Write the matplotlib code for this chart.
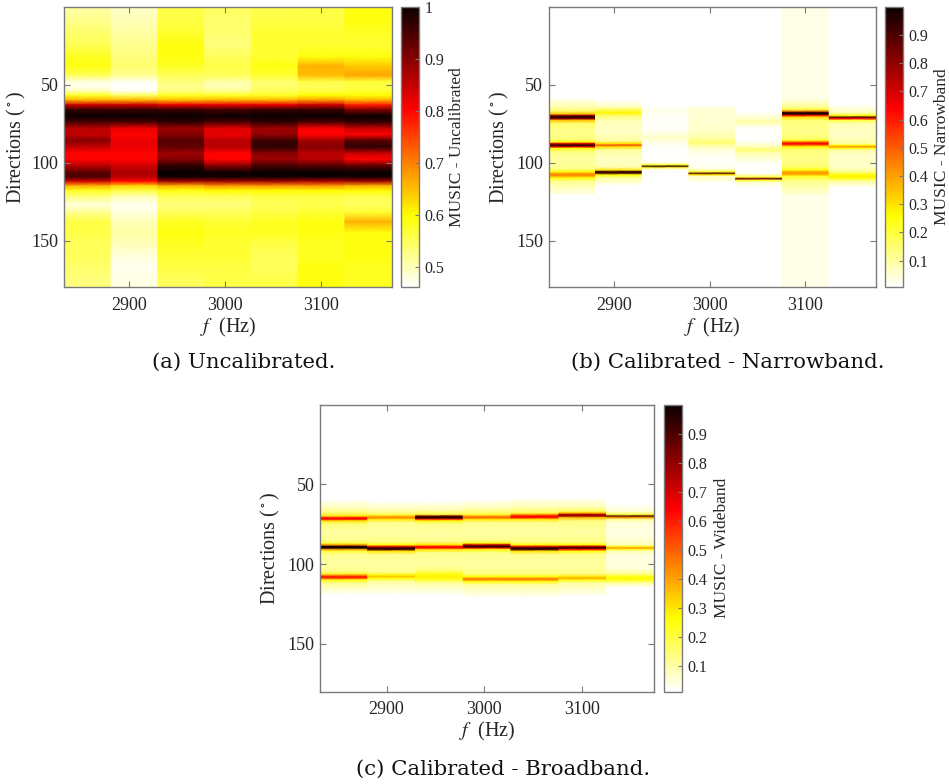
import numpy as np
import matplotlib
matplotlib.use("Agg")
import matplotlib.pyplot as plt
from matplotlib.colors import Normalize
from matplotlib.cm import ScalarMappable

# ---------------- data ----------------
freq_edges = [2832.0, 2880.9, 2929.7, 2978.5, 3027.3, 3076.2, 3125.0, 3173.8]
x_ticks = [2900, 3000, 3100]
y_ticks = [50, 100, 150]

# (a) Uncalibrated: common direction samples, one value list per frequency column
dirs_a = [0, 8, 16, 24, 32, 38, 44, 48, 51, 54, 57, 60, 63, 66, 70, 74, 78, 82, 86,
          90, 94, 98, 102, 106, 109, 112, 115, 118, 122, 127, 132, 138, 145, 152,
          160, 168, 176, 180]
a_col1 = [.51, .52, .54, .55, .58, .59, .55, .48, .47, .50, .58, .66, .84, .96, 1.0, .95, .86, .85, .90,
          .85, .80, .80, .86, .93, .95, .84, .66, .58, .53, .48, .52, .56, .56, .55, .55, .54, .53, .53]
a_col2 = [.49, .50, .51, .52, .53, .54, .52, .47, .46, .47, .55, .66, .84, .96, 1.0, .95, .82, .80, .82,
          .82, .80, .80, .84, .87, .86, .80, .63, .56, .50, .47, .48, .50, .51, .50, .48, .47, .475, .475]
a_col3 = [.56, .56, .57, .59, .59, .58, .55, .53, .52, .53, .58, .65, .82, .96, 1.0, .97, .88, .90, .94,
          .93, .88, .90, .97, 1.0, 1.0, .88, .66, .59, .55, .53, .55, .58, .59, .58, .57, .56, .55, .55]
a_col4 = [.55, .54, .54, .53, .55, .56, .55, .51, .50, .52, .58, .66, .82, .95, 1.0, .95, .83, .82, .86,
          .86, .80, .80, .90, .99, 1.0, .88, .68, .60, .55, .53, .55, .57, .58, .57, .57, .56, .56, .56]
a_col5 = [.555, .56, .57, .57, .57, .59, .57, .54, .54, .55, .58, .66, .82, .96, 1.0, .97, .88, .89, .96,
          .97, .90, .88, .95, 1.0, 1.0, .88, .68, .60, .56, .55, .56, .58, .58, .56, .55, .55, .56, .56]
a_col6 = [.56, .56, .57, .57, .59, .66, .65, .56, .55, .56, .60, .68, .84, .96, 1.0, .95, .81, .80, .88,
          .90, .86, .86, .94, 1.0, 1.0, .87, .68, .60, .56, .555, .57, .59, .59, .58, .58, .59, .59, .59]
a_col7 = [.59, .59, .58, .57, .59, .64, .67, .57, .56, .57, .60, .66, .78, .90, 1.0, .97, .85, .80, .94,
          .97, .85, .80, .93, 1.0, 1.0, .88, .66, .60, .555, .545, .57, .66, .59, .59, .59, .58, .58, .58]
vals_a = [a_col1, a_col2, a_col3, a_col4, a_col5, a_col6, a_col7]

# (b) Calibrated - Narrowband: per column direction samples and values
b_dirs1 = [0, 59, 60, 64, 67, 69, 70, 71, 72, 73, 75, 80, 85, 87, 88, 89, 90, 91, 93, 98, 104, 106, 107, 108, 109, 110, 112, 117, 120, 121, 180]
b_vals1 = [.005, .005, .04, .08, .15, .35, .8, 1.0, .8, .35, .15, .12, .13, .25, .7, .98, .7, .25, .13, .1, .12, .25, .38, .45, .38, .25, .12, .06, .04, .005, .005]
b_dirs2 = [0, 60, 61, 64, 66, 68, 70, 73, 80, 86, 88, 89, 90, 92, 98, 103, 105, 106, 107, 108, 110, 113, 115, 180]
b_vals2 = [.005, .005, .03, .06, .15, .27, .15, .08, .06, .1, .3, .55, .3, .1, .06, .08, .3, .95, .9, .25, .1, .05, .005, .005]
b_dirs3 = [0, 65, 66, 70, 78, 82, 84, 86, 90, 100, 101.5, 102.5, 103.5, 104.5, 106, 180]
b_vals3 = [.005, .005, .03, .02, .01, .04, .06, .04, .01, .01, .2, .95, .2, .03, .005, .005]
b_dirs4 = [0, 64, 65, 72, 80, 85, 87, 89, 92, 96, 100, 104, 106, 107, 108, 109, 112, 113, 180]
b_vals4 = [.005, .005, .05, .05, .06, .1, .15, .1, .04, .02, .01, .03, .2, .9, .3, .06, .04, .005, .005]
b_dirs5 = [0, 68, 69, 72, 74, 76, 78, 86, 90, 92, 94, 98, 101, 107, 109.5, 110.5, 111.5, 113, 115, 116, 180]
b_vals5 = [.005, .005, .03, .06, .1, .05, .01, .01, .08, .15, .08, .04, .01, .01, .2, .85, .2, .04, .03, .005, .005]
b_dirs6 = [0, 59, 61, 64, 66, 67, 68, 69, 70, 71, 73, 80, 85, 86, 87, 88, 89, 90, 92, 98, 103, 105, 106, 107, 108, 109, 112, 118, 120, 121, 180]
b_vals6 = [.03, .03, .06, .1, .18, .4, .9, 1.0, .6, .3, .14, .12, .15, .25, .5, .65, .5, .25, .14, .12, .15, .25, .38, .42, .35, .22, .12, .07, .06, .03, .03]
b_dirs7 = [0, 63, 64, 68, 70, 71, 72, 73, 75, 82, 88, 89, 90, 91, 92, 95, 103, 106, 108, 109, 110, 112, 115, 116, 180]
b_vals7 = [.005, .005, .03, .07, .25, .9, .6, .2, .08, .06, .1, .25, .42, .25, .1, .06, .06, .12, .25, .28, .25, .1, .04, .005, .005]
dirs_b = [b_dirs1, b_dirs2, b_dirs3, b_dirs4, b_dirs5, b_dirs6, b_dirs7]
vals_b = [b_vals1, b_vals2, b_vals3, b_vals4, b_vals5, b_vals6, b_vals7]

# (c) Calibrated - Broadband
c_dirs1 = [0, 60, 61, 65, 68, 70, 71, 72, 73, 75, 80, 85, 87, 88, 89, 90, 91, 92, 94, 99, 104, 106, 107, 108, 109, 110, 112, 116, 118, 119, 180]
c_vals1 = [.01, .01, .04, .08, .15, .3, .6, .65, .3, .14, .1, .12, .2, .4, .95, 1.0, .4, .2, .12, .1, .12, .2, .4, .6, .55, .25, .12, .06, .04, .01, .01]
c_dirs2 = [0, 61, 62, 66, 69, 70, 71, 72, 74, 80, 86, 88, 89, 90, 91, 92, 94, 100, 105, 107, 108, 109, 111, 116, 118, 119, 180]
c_vals2 = [.01, .01, .04, .08, .18, .35, .45, .3, .12, .1, .13, .25, .6, .95, .9, .3, .12, .1, .12, .28, .35, .25, .1, .05, .04, .01, .01]
c_dirs3 = [0, 61, 62, 66, 69, 70, 71, 72, 73, 75, 82, 86, 88, 89, 90, 91, 93, 100, 104, 106, 108, 110, 112, 116, 118, 119, 180]
c_vals3 = [.01, .01, .04, .08, .2, .85, .98, .6, .25, .12, .1, .13, .3, .6, .65, .3, .12, .1, .14, .24, .28, .22, .1, .05, .04, .01, .01]
c_dirs4 = [0, 60, 61, 65, 69, 70, 71, 72, 74, 80, 85, 87, 88, 89, 90, 91, 93, 100, 106, 108, 109, 110, 111, 113, 118, 120, 121, 180]
c_vals4 = [.01, .01, .04, .08, .2, .4, .5, .3, .12, .1, .12, .25, .7, 1.0, .7, .25, .12, .1, .13, .25, .42, .45, .25, .1, .05, .04, .01, .01]
c_dirs5 = [0, 59, 60, 64, 68, 69, 70, 71, 72, 74, 80, 86, 88, 89, 90, 91, 92, 94, 100, 106, 108, 109, 110, 111, 113, 118, 120, 121, 180]
c_vals5 = [.01, .01, .04, .08, .18, .4, .65, .6, .3, .12, .1, .13, .25, .6, .97, .9, .3, .12, .1, .13, .25, .42, .45, .25, .1, .05, .04, .01, .01]
c_dirs6 = [0, 59, 60, 64, 67, 68, 69, 70, 71, 73, 80, 86, 88, 89, 90, 91, 92, 94, 100, 106, 108, 109, 110, 112, 117, 119, 120, 180]
c_vals6 = [.01, .01, .04, .08, .18, .35, .75, .8, .35, .13, .1, .13, .25, .7, .97, .6, .25, .12, .1, .13, .3, .4, .25, .1, .05, .04, .01, .01]
c_dirs7 = [0, 63, 64, 67, 69, 70, 71, 72, 74, 82, 88, 89, 90, 91, 92, 95, 103, 106, 108, 109, 110, 112, 114, 115, 180]
c_vals7 = [.01, .01, .03, .05, .2, .9, .4, .12, .05, .04, .08, .22, .42, .22, .08, .04, .05, .12, .24, .27, .24, .1, .04, .01, .01]
dirs_c = [c_dirs1, c_dirs2, c_dirs3, c_dirs4, c_dirs5, c_dirs6, c_dirs7]
vals_c = [c_vals1, c_vals2, c_vals3, c_vals4, c_vals5, c_vals6, c_vals7]

cbar_ticks_a = [0.5, 0.6, 0.7, 0.8, 0.9, 1.0]
cbar_ticklabels_a = ["0.5", "0.6", "0.7", "0.8", "0.9", "1"]
cbar_ticks_bc = [0.1, 0.2, 0.3, 0.4, 0.5, 0.6, 0.7, 0.8, 0.9]

# ---------------- style ----------------
plt.rcParams['font.family'] = ['Liberation Serif', 'DejaVu Serif']
plt.rcParams['mathtext.fontset'] = 'stix'
GRAY = '#7a7a7a'
TXT = '#262626'

W, H = 949, 784
fig = plt.figure(figsize=(W / 100, H / 100), dpi=100)
fig.patch.set_facecolor('white')


def px_axes(l, r, t, b):
    return fig.add_axes([l / W, 1 - b / H, (r - l) / W, (b - t) / H])


cmap = plt.get_cmap('hot_r')


def draw_panel(ax, cax, dirs_list, vals_list, cbar_label, cticks, cticklabels, ylab_x, xlab_y, clab_x):
    allv = np.concatenate([np.asarray(v, float) for v in vals_list])
    norm = Normalize(vmin=allv.min(), vmax=allv.max())
    for k in range(len(vals_list)):
        d = np.asarray(dirs_list[k], float)
        v = np.asarray(vals_list[k], float)
        X = np.column_stack([np.full_like(d, freq_edges[k]), np.full_like(d, freq_edges[k + 1])])
        Y = np.column_stack([d, d])
        C = np.column_stack([v, v])
        ax.pcolormesh(X, Y, C, shading='gouraud', cmap=cmap, norm=norm,
                      antialiased=False, edgecolors='none')
    ax.set_xlim(freq_edges[0], freq_edges[-1])
    ax.set_ylim(180, 0)
    ax.set_xticks(x_ticks)
    ax.set_yticks(y_ticks)
    ax.tick_params(direction='in', length=4, width=0.8, color=GRAY, top=True, right=True,
                   labelsize=13, labelcolor=TXT)
    ax.tick_params(axis='x', pad=7)
    ax.tick_params(axis='y', pad=4)
    for s in ax.spines.values():
        s.set_color(GRAY)
        s.set_linewidth(1.0)
    ax.set_ylabel(r'Directions ($^\circ$)', fontsize=14.5, color=TXT, va='center')
    ax.yaxis.set_label_coords(ylab_x, 0.5)
    ax.set_xlabel(r'$f\ $ (Hz)', fontsize=14.5, color=TXT, va='center')
    ax.xaxis.set_label_coords(0.5, xlab_y)

    sm = ScalarMappable(norm=norm, cmap=cmap)
    cb = fig.colorbar(sm, cax=cax)
    cb.set_ticks(cticks)
    cb.set_ticklabels(cticklabels)
    cb.outline.set_edgecolor(GRAY)
    cb.outline.set_linewidth(1.0)
    cax.tick_params(direction='in', length=3, width=0.8, color=GRAY, labelsize=11.5,
                    labelcolor=TXT, pad=4)
    cax.set_ylabel(cbar_label, fontsize=12.5, color=TXT, rotation=90, va='center', ha='center')
    cax.yaxis.set_label_coords(clab_x, 0.5)


# (a)
ax_a = px_axes(64.3, 391.7, 6.7, 287.3)
cax_a = px_axes(401, 419, 6.7, 287.3)
draw_panel(ax_a, cax_a, [dirs_a] * 7, vals_a, 'MUSIC - Uncalibrated',
           cbar_ticks_a, cbar_ticklabels_a, -0.1475, -0.143, 3.09)

# (b)
ax_b = px_axes(548.7, 876.0, 6.7, 287.3)
cax_b = px_axes(885, 903.3, 6.7, 287.3)
draw_panel(ax_b, cax_b, dirs_b, vals_b, 'MUSIC - Narrowband',
           cbar_ticks_bc, [f"{t:.1f}" for t in cbar_ticks_bc], -0.149, -0.143, 3.10)

# (c)
ax_c = px_axes(320.0, 654.3, 404.7, 691.7)
cax_c = px_axes(663.7, 682.3, 404.7, 691.7)
draw_panel(ax_c, cax_c, dirs_c, vals_c, 'MUSIC - Wideband',
           cbar_ticks_bc, [f"{t:.1f}" for t in cbar_ticks_bc], -0.1496, -0.140, 3.13)

cap_kw = dict(fontsize=15.3, family='DejaVu Serif', color='#111111', ha='center', va='center')
fig.text(244 / W, 1 - 362.5 / H, '(a) Uncalibrated.', **cap_kw)
fig.text(728 / W, 1 - 362 / H, '(b) Calibrated - Narrowband.', **cap_kw)
fig.text(503 / W, 1 - 769 / H, '(c) Calibrated - Broadband.', **cap_kw)

fig.savefig('out.png', dpi=100, facecolor='white')
